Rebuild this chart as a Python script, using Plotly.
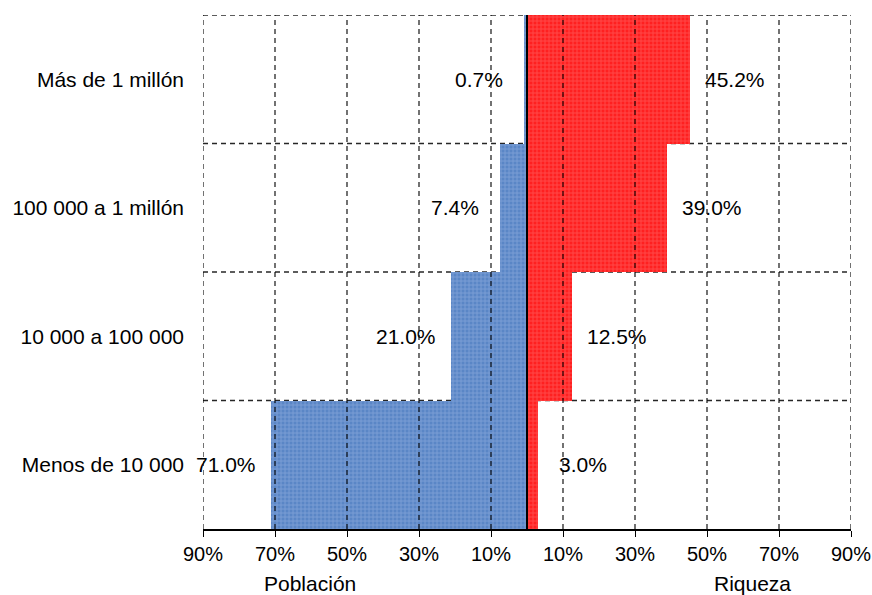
import plotly.graph_objects as go

# Wealth-pyramid data: share of population and share of wealth per bracket
brackets = ["Menos de 10 000", "10 000 a 100 000", "100 000 a 1 millón", "Más de 1 millón"]
poblacion = [71.0, 21.0, 7.4, 0.7]
riqueza = [3.0, 12.5, 39.0, 45.2]

tick_vals = [-90, -70, -50, -30, -10, 10, 30, 50, 70, 90]
tick_text = ["90%", "70%", "50%", "30%", "10%", "10%", "30%", "50%", "70%", "90%"]

label_offset = 12.5
font_family = "Liberation Sans, Arial, sans-serif"
txt = dict(size=21, color="#000")
grid_line = dict(color="rgba(0,0,0,0.85)", width=1.3, dash="5px,4px")

fig = go.Figure()

fig.add_trace(go.Bar(
    y=brackets, x=[-v for v in poblacion], orientation="h",
    marker=dict(color="#5a86c6", line=dict(width=0),
                pattern=dict(shape="+", size=4, solidity=0.4, fgcolor="#9db8e4")),
    hoverinfo="skip", showlegend=False,
))
fig.add_trace(go.Bar(
    y=brackets, x=riqueza, orientation="h",
    marker=dict(color="#ff2020", line=dict(width=0),
                pattern=dict(shape="+", size=4, solidity=0.4, fgcolor="#ff7676")),
    hoverinfo="skip", showlegend=False,
))

annotations = []
for b, p, r in zip(brackets, poblacion, riqueza):
    annotations.append(dict(x=-(p + label_offset), y=b, text=f"{p:.1f}%", showarrow=False, font=txt))
    annotations.append(dict(x=r + label_offset, y=b, text=f"{r:.1f}%", showarrow=False, font=txt))
annotations.append(dict(x=0.091, y=0, xref="paper", yref="paper", yanchor="middle", yshift=-54,
                        text="Población", showarrow=False, font=txt))
annotations.append(dict(x=0.910, y=0, xref="paper", yref="paper", yanchor="middle", yshift=-54,
                        text="Riqueza", showarrow=False, font=txt))

shapes = []
# dashed vertical grid drawn over the bars
for v in tick_vals:
    shapes.append(dict(type="line", x0=v, x1=v, y0=0, y1=1, xref="x", yref="paper",
                       line=grid_line, layer="above"))
# dashed horizontal lines between brackets and at the top edge
n = len(brackets)
for k in range(1, n + 1):
    shapes.append(dict(type="line", x0=0, x1=1, y0=k - 0.5, y1=k - 0.5, xref="paper", yref="y",
                       line=grid_line, layer="below"))
# solid centre line
shapes.append(dict(type="line", x0=0, x1=0, y0=0, y1=1, xref="x", yref="paper",
                   line=dict(color="black", width=2), layer="above"))

fig.update_layout(
    width=872, height=595,
    margin=dict(l=203, r=21, t=15, b=66),
    paper_bgcolor="white", plot_bgcolor="white",
    barmode="overlay", bargap=0,
    font=dict(family=font_family, size=20, color="#000"),
    annotations=annotations, shapes=shapes,
    xaxis=dict(range=[-90, 90], tickvals=tick_vals, ticktext=tick_text, automargin=False,
               showgrid=False, zeroline=False, showline=True, linecolor="black", linewidth=2,
               ticks="outside", ticklen=6, tickcolor="black", tickwidth=1,
               tickfont=dict(size=20, color="#000")),
    yaxis=dict(range=[-0.5, n - 0.5], showgrid=False, zeroline=False, showline=False,
               automargin=False, ticks="", ticklabelstandoff=18, tickfont=txt),
)

fig.write_html("out.html")
